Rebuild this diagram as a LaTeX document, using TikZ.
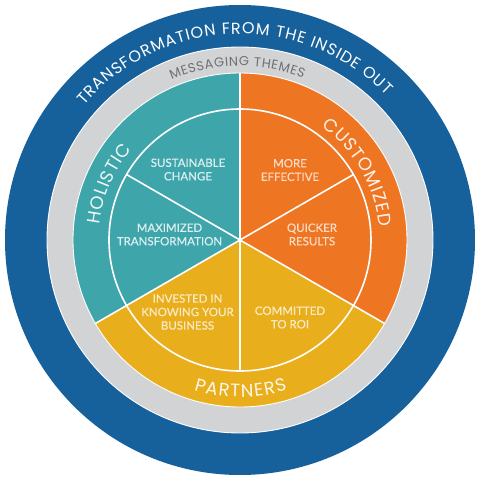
\documentclass[tikz,border=0pt]{standalone}
\usepackage{fontspec}
\setmainfont{Lato}
\newfontfamily\labelfont[FakeBold=0.5]{Lato}
\newfontfamily\arcfont{Poppins}
\usetikzlibrary{decorations.text}
\definecolor{ringblue}{RGB}{22,96,155}
\definecolor{ringgrey}{RGB}{210,211,213}
\definecolor{segteal}{RGB}{62,165,170}
\definecolor{segorange}{RGB}{238,118,35}
\definecolor{segyellow}{RGB}{233,174,28}
\definecolor{greytext}{RGB}{112,112,117}
\begin{document}
\begin{tikzpicture}[x=1pt,y=1pt,
  divider/.style={white, line width=1.6pt},
  edge/.style={white, line width=0.9pt},
  inlabel/.style={align=center, font=\labelfont\fontsize{11.5}{13.5}\selectfont, inner sep=0pt},
  arctext/.style={decorate, decoration={text along path, text align=center, text={#1}}}
]
\useasboundingbox (-240,-240) rectangle (240,240);
\fill[white] (-240,-240) rectangle (240,240);
\coordinate (O) at (0,0);
% rings
\fill[ringblue] (O) circle[radius=235];
\fill[ringgrey] (O) circle[radius=193];
\draw[edge] (O) circle[radius=193];
% segments
\fill[segteal] (O) -- (90:167) arc[start angle=90, end angle=210, radius=167] -- cycle;
\fill[segorange] (O) -- (-30:167) arc[start angle=-30, end angle=90, radius=167] -- cycle;
\fill[segyellow] (O) -- (210:167) arc[start angle=210, end angle=330, radius=167] -- cycle;
\draw[edge] (O) circle[radius=167];
% inner circle and dividers
\draw[divider] (O) circle[radius=131];
\coordinate (d90) at (90:167);
\coordinate (d210) at (210:167);
\coordinate (d330) at (330:167);
\coordinate (d30) at (30:131);
\coordinate (d150) at (150:131);
\coordinate (d270) at (270:131);
\draw[divider] (O) -- (d90);
\draw[divider] (O) -- (d210);
\draw[divider] (O) -- (d330);
\draw[divider] (O) -- (d30);
\draw[divider] (O) -- (d150);
\draw[divider] (O) -- (d270);
% curved texts
\path[arctext={|\arcfont\fontsize{16}{16}\selectfont\color{white}\kern0.9pt|TRANSFORMATION FROM THE INSIDE OUT}]
  (152:206) arc[start angle=152, end angle=32, radius=206];
\path[arctext={|\arcfont\fontsize{13}{13}\selectfont\color{greytext}\kern0.6pt|MESSAGING THEMES}]
  (131:174) arc[start angle=131, end angle=51, radius=174];
\path[arctext={|\arcfont\fontsize{18}{18}\selectfont\color{white!92!segteal}\kern0.8pt|HOLISTIC}]
  (200:141) arc[start angle=200, end angle=114, radius=141];
\path[arctext={|\arcfont\fontsize{18}{18}\selectfont\color{white!90!segorange}\kern0.8pt|CUSTOMIZED}]
  (75:140) arc[start angle=75, end angle=-15, radius=140];
\path[arctext={|\arcfont\fontsize{18}{18}\selectfont\color{white!90!segyellow}\kern1.2pt|PARTNERS}]
  (230:157) arc[start angle=230, end angle=310, radius=157];
% inner labels
\node[inlabel, text=white!82!segteal] (sc) at (-52,70.5) {SUSTAINABLE\\CHANGE};
\node[inlabel, text=white!82!segteal] (mt) at (-70.5,5.5) {MAXIMIZED\\TRANSFORMATION};
\node[inlabel, text=white!74!segyellow] (ik) at (-52.5,-72) {INVESTED IN\\KNOWING YOUR\\BUSINESS};
\node[inlabel, text=white!74!segorange] (me) at (50,70) {MORE\\EFFECTIVE};
\node[inlabel, text=white!74!segorange] (qr) at (72,5.5) {QUICKER\\RESULTS};
\node[inlabel, text=white!74!segyellow] (cr) at (50,-77.5) {COMMITTED\\TO ROI};
\end{tikzpicture}
\end{document}
